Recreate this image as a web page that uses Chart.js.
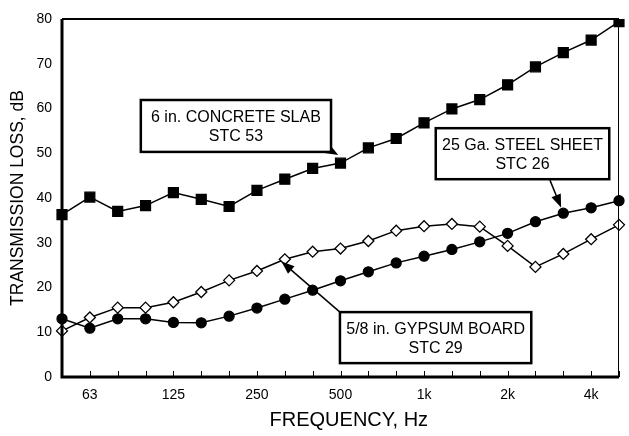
<!DOCTYPE html>
<html>
<head>
<meta charset="utf-8">
<script src="https://cdn.jsdelivr.net/npm/chart.js@4"></script>
<style>
  html, body { margin: 0; padding: 0; background: #fff; }
  #wrap { width: 629px; height: 436px; }
</style>
</head>
<body>
<div id="wrap"><canvas id="tlChart" width="629" height="436"></canvas></div>
<script>
// 1/3 octave band centre frequencies
const bands = ["50", "63", "80", "100", "125", "160", "200", "250", "315", "400", "500",
  "630", "800", "1k", "1.25k", "1.6k", "2k", "2.5k", "3.15k", "4k", "5k"];
const shownBands = ["63", "125", "250", "500", "1k", "2k", "4k"];

const concreteTL = [36.3, 40.2, 37.0, 38.3, 41.2, 39.7, 38.1, 41.7, 44.2, 46.6, 47.8,
  51.2, 53.3, 56.8, 59.9, 62.0, 65.3, 69.3, 72.5, 75.3, 79.4];
const steelTL = [13.0, 10.9, 13.0, 13.0, 12.2, 12.1, 13.6, 15.4, 17.4, 19.4, 21.5,
  23.5, 25.5, 27.0, 28.5, 30.2, 32.1, 34.7, 36.6, 37.8, 39.4];
const gypsumTL = [10.3, 13.3, 15.5, 15.5, 16.7, 19.0, 21.6, 23.7, 26.3, 28.0, 28.7,
  30.4, 32.7, 33.7, 34.2, 33.6, 29.3, 24.6, 27.5, 30.8, 34.0];

const yTicks = [0, 10, 20, 30, 40, 50, 60, 70, 80];

// callout boxes, in (band index, dB) space
const callouts = [
  { lines: ["6 in. CONCRETE SLAB", "STC 53"], box: [2.83, 61.9, 9.66, 50.3],
    arrow: [9.3, 51.8, 9.92, 49.6] },
  { lines: ["25 Ga. STEEL SHEET", "STC 26"], box: [13.42, 55.6, 19.65, 44.2],
    arrow: [17.52, 44.0, 17.92, 37.9] },
  { lines: ["5/8 in. GYPSUM BOARD", "STC 29"], box: [9.98, 14.5, 16.85, 3.1],
    arrow: [9.98, 14.5, 7.88, 25.8] }
];

const FONT = "'Liberation Sans', Arial, sans-serif";

function drawArrow(ctx, x0, y0, x1, y1) {
  const ang = Math.atan2(y1 - y0, x1 - x0);
  const len = 13, half = 5;
  ctx.beginPath();
  ctx.moveTo(x0, y0);
  ctx.lineTo(x1 - Math.cos(ang) * len * 0.8, y1 - Math.sin(ang) * len * 0.8);
  ctx.stroke();
  ctx.beginPath();
  ctx.moveTo(x1, y1);
  ctx.lineTo(x1 - Math.cos(ang) * len - Math.sin(ang) * half, y1 - Math.sin(ang) * len + Math.cos(ang) * half);
  ctx.lineTo(x1 - Math.cos(ang) * len + Math.sin(ang) * half, y1 - Math.sin(ang) * len - Math.cos(ang) * half);
  ctx.closePath();
  ctx.fill();
}

const framePlugin = {
  id: "frame",
  afterDatasetsDraw(chart) {
    const { ctx, chartArea: a, scales: { x, y } } = chart;
    ctx.save();
    ctx.strokeStyle = "#000";
    ctx.fillStyle = "#000";

    // inner tick marks on the frequency axis
    ctx.lineWidth = 1;
    bands.forEach((b, i) => {
      const px = Math.round(x.getPixelForValue(i)) + 0.5;
      ctx.beginPath();
      ctx.moveTo(px, a.bottom);
      ctx.lineTo(px, a.bottom - 6);
      ctx.stroke();
    });

    // frame: heavy left/bottom, lighter top, thin right
    ctx.lineWidth = 3;
    ctx.beginPath();
    ctx.moveTo(a.left, a.top);
    ctx.lineTo(a.left, a.bottom);
    ctx.lineTo(a.right, a.bottom);
    ctx.stroke();
    ctx.lineWidth = 2;
    ctx.beginPath();
    ctx.moveTo(a.left, a.top);
    ctx.lineTo(a.right, a.top);
    ctx.stroke();
    ctx.lineWidth = 1;
    ctx.beginPath();
    ctx.moveTo(a.right - 0.5, a.top);
    ctx.lineTo(a.right - 0.5, a.bottom);
    ctx.stroke();

    // callouts
    callouts.forEach(c => {
      const [ax0, ay0, ax1, ay1] = c.arrow;
      ctx.lineWidth = 1.5;
      drawArrow(ctx, x.getPixelForValue(ax0), y.getPixelForValue(ay0),
        x.getPixelForValue(ax1), y.getPixelForValue(ay1));

      const l = x.getPixelForValue(c.box[0]), t = y.getPixelForValue(c.box[1]);
      const r = x.getPixelForValue(c.box[2]), btm = y.getPixelForValue(c.box[3]);
      ctx.fillStyle = "#fff";
      ctx.fillRect(l, t, r - l, btm - t);
      ctx.lineWidth = 2.5;
      ctx.strokeRect(l, t, r - l, btm - t);
      ctx.fillStyle = "#000";
      ctx.font = "16px " + FONT;
      ctx.textAlign = "center";
      ctx.textBaseline = "middle";
      const cx = (l + r) / 2, cy = (t + btm) / 2;
      ctx.fillText(c.lines[0], cx, cy - 8);
      ctx.fillText(c.lines[1], cx, cy + 11);
    });
    ctx.restore();
  }
};

const lineStyle = {
  borderColor: "#000",
  borderWidth: 1.5,
  pointBorderColor: "#000",
  pointBorderWidth: 1.3,
  tension: 0
};

new Chart(document.getElementById("tlChart"), {
  type: "line",
  data: {
    labels: bands,
    datasets: [
      { ...lineStyle, label: "6 in. Concrete slab", data: concreteTL,
        pointStyle: "rect", pointRadius: 7, pointBackgroundColor: "#000" },
      { ...lineStyle, label: "25 Ga. Steel sheet", data: steelTL,
        pointStyle: "circle", pointRadius: 5, pointBackgroundColor: "#000" },
      { ...lineStyle, label: "5/8 in. Gypsum board", data: gypsumTL,
        pointStyle: "rectRot", pointRadius: 5.5, pointBackgroundColor: "#fff" }
    ]
  },
  options: {
    responsive: false,
    animation: false,
    layout: { padding: { top: 19, right: 2, left: 0, bottom: 4 } },
    plugins: {
      legend: { display: false },
      tooltip: { enabled: false }
    },
    scales: {
      x: {
        type: "category",
        offset: false,
        grid: { display: false, drawTicks: false },
        border: { display: false },
        afterFit(s) { s.height = 55; },
        ticks: {
          autoSkip: false,
          maxRotation: 0,
          padding: 10,
          color: "#000",
          font: { family: FONT, size: 14 },
          callback(v, i) {
            const b = bands[i];
            return shownBands.includes(b) ? b : "";
          }
        },
        title: {
          display: true,
          text: "   FREQUENCY, Hz",
          color: "#000",
          font: { family: FONT, size: 20 },
          padding: { top: 6, bottom: 0 }
        }
      },
      y: {
        min: yTicks[0],
        max: yTicks[yTicks.length - 1],
        afterBuildTicks(s) { s.ticks = yTicks.map(v => ({ value: v })); },
        afterFit(s) { s.width = 62; },
        grid: { display: false, drawTicks: false },
        border: { display: false },
        ticks: {
          padding: 10,
          color: "#000",
          font: { family: FONT, size: 14 }
        },
        title: {
          display: true,
          text: "TRANSMISSION LOSS, dB",
          color: "#000",
          font: { family: FONT, size: 17.5 },
          padding: { top: 8, bottom: 0 }
        }
      }
    }
  },
  plugins: [framePlugin]
});
</script>
</body>
</html>
